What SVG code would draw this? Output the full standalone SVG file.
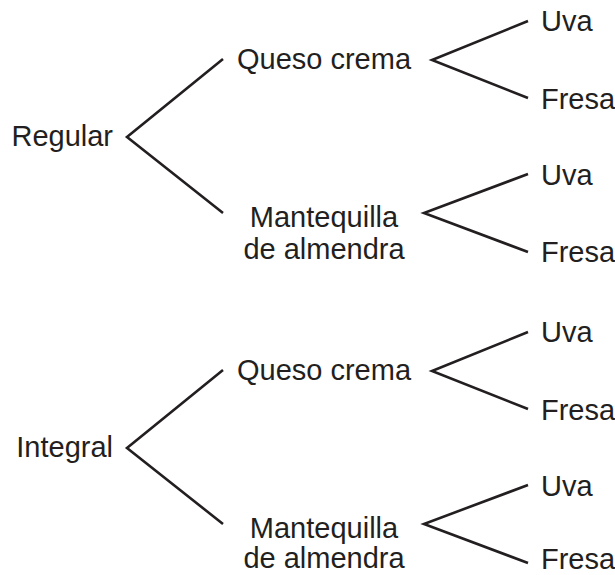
<svg xmlns="http://www.w3.org/2000/svg" width="615" height="575" viewBox="0 0 615 575">
<style>
text { font-family: "Liberation Sans", Arial, Helvetica, sans-serif; font-size: 29px; fill: #231f20; }
.mid { text-anchor: middle; }
.end { text-anchor: end; }
.edge { fill: none; stroke: #231f20; stroke-width: 2.6; stroke-linejoin: miter; stroke-miterlimit: 10; }
</style>
<rect width="615" height="575" fill="#ffffff"/>
<g id="connectors">
  <polyline class="edge" points="223,59 127,137 223,213"/>
  <polyline class="edge" points="528,21 432,60 528,98"/>
  <polyline class="edge" points="528,174 424,213 528,252"/>
  <polyline class="edge" points="223,370 127,448 223,524"/>
  <polyline class="edge" points="528,332 432,371 528,409"/>
  <polyline class="edge" points="528,485 424,524 528,563"/>
</g>
<g id="regular"><text class="end" x="113" y="146">Regular</text></g>
<g id="regular-queso"><text class="mid" x="324" y="69">Queso crema</text></g>
<g id="regular-queso-uva"><text x="541" y="31">Uva</text></g>
<g id="regular-queso-fresa"><text x="541" y="108.5">Fresa</text></g>
<g id="regular-mantequilla"><text class="mid" x="324" y="227">Mantequilla</text><text class="mid" x="324" y="258.5">de almendra</text></g>
<g id="regular-mantequilla-uva"><text x="541" y="184.5">Uva</text></g>
<g id="regular-mantequilla-fresa"><text x="541" y="261.5">Fresa</text></g>
<g id="integral"><text class="end" x="113" y="457">Integral</text></g>
<g id="integral-queso"><text class="mid" x="324" y="380">Queso crema</text></g>
<g id="integral-queso-uva"><text x="541" y="342">Uva</text></g>
<g id="integral-queso-fresa"><text x="541" y="419.5">Fresa</text></g>
<g id="integral-mantequilla"><text class="mid" x="324" y="538">Mantequilla</text><text class="mid" x="324" y="568">de almendra</text></g>
<g id="integral-mantequilla-uva"><text x="541" y="495.5">Uva</text></g>
<g id="integral-mantequilla-fresa"><text x="541" y="569">Fresa</text></g>
</svg>
